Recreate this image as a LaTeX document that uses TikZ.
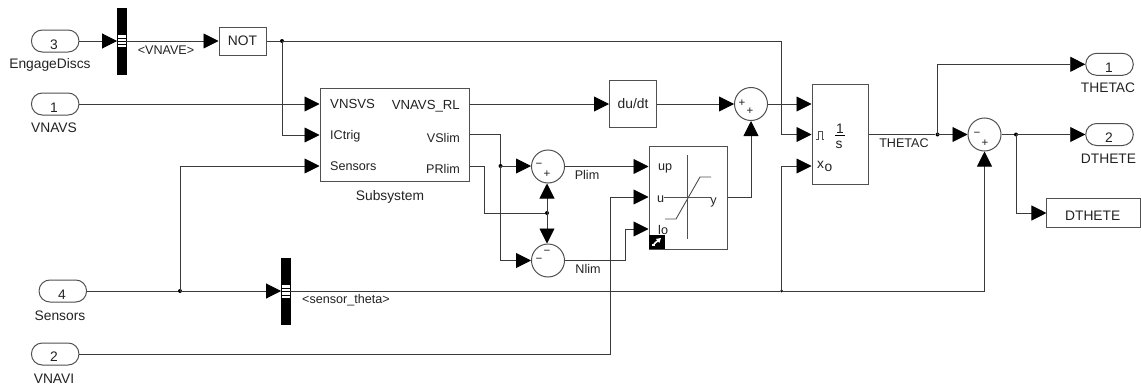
\documentclass[tikz,border=0pt]{standalone}
\usepackage{fontspec}
\setmainfont{Liberation Sans}
\usetikzlibrary{arrows.meta}
\definecolor{wirec}{HTML}{3A3A3A}
\definecolor{boxc}{HTML}{505050}
\definecolor{textc}{HTML}{222222}
\tikzset{
 x=1pt,y=-1pt,
 wire/.style={draw=wirec,line width=0.9pt,line join=miter},
 sig/.style={wire,-{Triangle[length=15pt,width=15pt,color=black]}},
 block/.style={draw=boxc,line width=1pt,fill=white,rectangle,inner sep=0pt,text=textc,font=\fontsize{13.8}{15}\selectfont},
 port/.style={block,rounded corners=10.8pt,minimum width=47.5pt,minimum height=22pt,font=\fontsize{14}{15}\selectfont},
 sumc/.style={draw=boxc,line width=1pt,fill=white,circle,inner sep=0pt,minimum size=33pt},
 sel/.style={rectangle,fill=black,draw=black,line width=0.4pt,inner sep=0pt,minimum width=8.5pt,minimum height=66pt},
 lbl/.style={inner sep=0pt,text=textc,font=\fontsize{13.8}{15}\selectfont},
 lab/.style={inner sep=0pt,text=textc,font=\fontsize{12.6}{15}\selectfont},
 sgn/.style={inner sep=0pt,text=textc,font=\fontsize{11.5}{12}\selectfont},
 dot/.style={circle,fill=black,inner sep=0pt,minimum size=4pt},
 thin/.style={draw=boxc,line width=0.9pt}
}
\begin{document}
\begin{tikzpicture}
\useasboundingbox (0,0) rectangle (1141,388);
% ports
\node[port] (in3) at (55.2,41) {};
\node[port] (in1) at (55.2,104) {};
\node[port] (in4) at (62.8,291) {};
\node[port] (in2) at (55.2,354) {};
\node[lbl] at (54,44.5) {3};
\node[lbl] at (54,107.5) {1};
\node[lbl] at (62,295) {4};
\node[lbl] at (54,357) {2};
\node[lbl] (l3) at (50,65) {EngageDiscs};
\node[lbl] (l1) at (54,128) {VNAVS};
\node[lbl] (l4) at (60,315.5) {Sensors};
\node[lbl] (l2) at (54,379) {VNAVI};
% selectors
\node[sel] (sel1) at (121.5,41) {};
\fill[white] (118,35) rectangle (125.5,47);
\draw[black,line width=0.5pt] (118,38) -- (125.5,38) (118,41) -- (125.5,41) (118,44) -- (125.5,44);
\node[sel] (sel2) at (285.5,291) {};
\fill[white] (282,285) rectangle (289.5,298);
\draw[black,line width=0.5pt] (282,288) -- (289.5,288) (282,291.5) -- (289.5,291.5) (282,295) -- (289.5,295);
\node[lab] at (166,50) {<VNAVE>};
\node[lab] at (346,300.5) {<sensor\_theta>};
% blocks
\node[block,minimum width=47pt,minimum height=28pt] (not) at (242.5,41) {NOT};
\node[block,minimum width=149pt,minimum height=93.5pt] (sub) at (394.5,135) {};
\node[block,minimum width=47pt,minimum height=47pt] (deriv) at (633,104) {du/dt};
\node[block,minimum width=78pt,minimum height=103pt] (sat) at (688,197.5) {};
\node[block,minimum width=56pt,minimum height=100pt] (integ) at (840,134.5) {};
\node[port] (out1) at (1109.5,64.3) {};
\node[port] (out2) at (1109.5,134.5) {};
\node[block,minimum width=93.5pt,minimum height=28.5pt] (goto) at (1093.7,213) {};
\node[lbl] at (1092.7,216) {DTHETE};
\node[lbl] at (1109,68) {1};
\node[lbl] at (1109,138) {2};
\node[lbl] at (1108,88) {THETAC};
\node[lbl] at (1108.5,159) {DTHETE};
% sums
\node[sumc] (s1) at (548,166.5) {};
\node[sumc] (s2) at (548,260.5) {};
\node[sumc] (s3) at (751,104) {};
\node[sumc] (s4) at (984.5,134.5) {};
\node[sgn] at (539,165.5) {−};
\node[sgn] at (547,174) {+};
\node[sgn] at (547,252) {−};
\node[sgn] at (539,260) {−};
\node[sgn] at (742,103) {+};
\node[sgn] at (750,111) {+};
\node[sgn] at (977,134.5) {−};
\node[sgn] at (985,143) {+};
% subsystem labels
\node[lab,anchor=west,font=\fontsize{13.2}{15}\selectfont] at (330,104) {VNSVS};
\node[lab,anchor=west] at (330,136) {ICtrig};
\node[lab,anchor=west] at (330,166.5) {Sensors};
\node[lab,anchor=east,font=\fontsize{13.2}{15}\selectfont] at (460,106) {VNAVS\_RL};
\node[lab,anchor=east] at (460,138) {VSlim};
\node[lab,anchor=east] at (460,169) {PRlim};
\node[lbl] at (390,196.5) {Subsystem};
\node[lab] at (587,175) {Plim};
\node[lab] at (588,269) {Nlim};
\node[lab] at (904,143) {THETAC};
% saturation details
\draw[thin] (687.7,155) -- (687.7,239);
\draw[thin] (664,197) -- (711,197);
\draw[thin] (665,219) -- (676,219) -- (700,177) -- (711,177);
\node[lab,anchor=west] at (658,168.5) {up};
\node[lab,anchor=west] at (657,199) {u};
\node[lab,anchor=west] at (658,230) {lo};
\node[lab] at (713.5,202) {y};
\fill[black] (649,234.5) rectangle (665,249);
\draw[white,line width=1.6pt,-{Triangle[length=4.5pt,width=5pt]}] (654,244) -- (661,238);
\draw[white,line width=1.6pt] (652,245) -- (655,245);
% integrator details
\draw[thin,line width=0.7pt] (816,139) -- (818.5,139) -- (818.5,131) -- (822,131) -- (822,139) -- (824,139);
\node[lbl] at (840,129) {1};
\draw[black,line width=0.8pt] (835,135) -- (845,135);
\node[lbl] at (839,145) {s};
\node[lbl] at (820.5,164.5) {x};
\node[lbl] at (828.5,167.5) {o};
% junctions
\node[dot] (j1) at (282,41) {};
\node[dot] (j2) at (180,291) {};
\node[dot] (j3) at (500.5,166) {};
\node[dot] (j4) at (547,213) {};
\node[dot,minimum size=3pt] (j5) at (781.5,291) {};
\node[dot] (j6) at (937.5,134.5) {};
\node[dot] (j7) at (1016,134.5) {};
% connectors
\draw[sig] (in3.east) -- (sel1.west |- in3);
\draw[sig] (sel1.east) -- (not.west);
\draw[wire] (not.east) -- (j1);
\draw[sig] (j1.center) -- (781.5,41) -- (781.5,134.5) -- (integ.west |- 0,134.5);
\draw[sig] (j1.center) -- (282,135) -- (sub.west |- 0,135);
\draw[sig] (in1.east) -- (sub.west |- in1);
\draw[sig] (j2.center) -- (180,166) -- (sub.west |- 0,166);
\draw[wire] (in4.east) -- (j2);
\draw[sig] (j2.center) -- (sel2.west |- j2);
\draw[wire] (sel2.east |- j2) -- (j5);
\draw[sig] (j5.center) -- (984.5,291) -- (s4.south);
\draw[sig] (j5.center) -- (781.5,166) -- (integ.west |- 0,166);
\draw[sig] (in2.east) -- (610,354) -- (610,197) -- (sat.west |- 0,197);
\draw[sig] (sub.east |- 0,104) -- (deriv.west);
\draw[sig] (deriv.east) -- (s3.west);
\draw[sig] (s3.east) -- (integ.west |- s3);
\draw[wire] (sub.east |- 0,134) -- (500.5,134) -- (j3);
\draw[sig] (j3.center) -- (s1.west |- j3);
\draw[sig] (j3.center) -- (500.5,260.5) -- (s2.west);
\draw[wire] (sub.east |- 0,166) -- (484.5,166) -- (484.5,213) -- (j4);
\draw[sig] (j4.center) -- (j4 |- s1.south);
\draw[sig] (j4.center) -- (j4 |- s2.north);
\draw[sig] (s1.east) -- (sat.west |- s1);
\draw[sig] (s2.east) -- (625.5,260.5) -- (625.5,229) -- (sat.west |- 0,229);
\draw[sig] (sat.east |- 0,197) -- (751,197) -- (s3.south);
\draw[wire] (integ.east |- j6) -- (j6);
\draw[sig] (j6.center) -- (937.5,64.3) -- (out1.west);
\draw[sig] (j6.center) -- (s4.west);
\draw[wire] (s4.east) -- (j7);
\draw[sig] (j7.center) -- (out2.west);
\draw[sig] (j7.center) -- (1016,213) -- (goto.west);
\end{tikzpicture}
\end{document}
